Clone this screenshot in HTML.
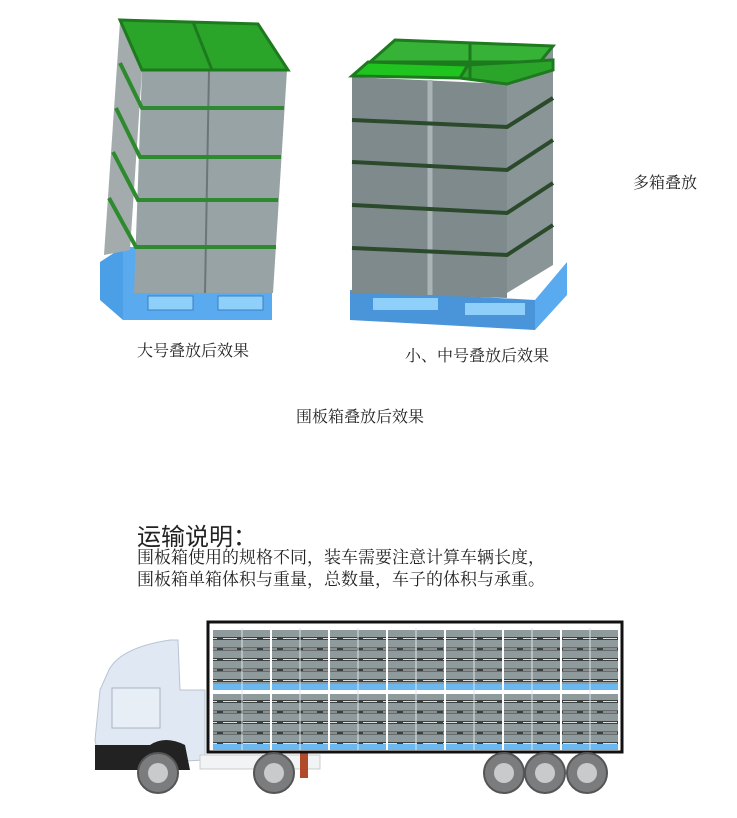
<!DOCTYPE html>
<html><head><meta charset="utf-8"><style>
html,body{margin:0;padding:0;background:#fff;}
body{width:737px;height:818px;position:relative;overflow:hidden;font-family:"Liberation Serif","Noto Serif CJK SC","Noto Sans CJK SC",serif;color:#222;}
.t{position:absolute;white-space:nowrap;}
</style></head><body>
<svg width="737" height="818" style="position:absolute;left:0;top:0">
<defs>
<pattern id="rows" x="0" y="0" width="20" height="10.5" patternUnits="userSpaceOnUse">
<rect width="20" height="10.5" fill="#8e9a9c"/>
<rect y="7" width="20" height="3" fill="#3a3f40"/>
<rect x="3" y="8" width="14" height="1" fill="#ddd"/>
</pattern>
</defs>
<g>
<polygon points="100,262 123,247 123,320 100,300" fill="#4a9fe6"/>
<polygon points="123,247 272,247 272,320 123,320" fill="#5aaaf0"/>
<rect x="148" y="296" width="45" height="14" fill="#8fd0fb" stroke="#3a80c0"/>
<rect x="218" y="296" width="45" height="14" fill="#8fd0fb" stroke="#3a80c0"/>
<polygon points="120,22 142,70 130,250 104,255" fill="#a3abad"/>
<polygon points="142,70 287,70 273,293 134,293" fill="#98a3a6"/>
<line x1="209" y1="70" x2="205" y2="293" stroke="#6c7678" stroke-width="2"/>
<g stroke="#2e8a2e" stroke-width="4" fill="none">
<polyline points="120,63 142,108 284,108"/>
<polyline points="116,108 140,157 281,157"/>
<polyline points="113,152 138,200 278,200"/>
<polyline points="109,198 136,247 276,247"/>
</g>
<polygon points="120,20 258,24 288,70 142,70" fill="#2aa52a" stroke="#1e7a1e" stroke-width="3"/>
<line x1="193" y1="22" x2="212" y2="70" stroke="#1e7a1e" stroke-width="3"/>
</g>
<g>
<polygon points="350,290 535,300 535,330 350,320" fill="#4a94da"/>
<polygon points="535,300 567,262 567,295 535,330" fill="#5aaaf0"/>
<rect x="373" y="298" width="65" height="12" fill="#8fd0fb"/>
<rect x="465" y="303" width="60" height="12" fill="#8fd0fb"/>
<polygon points="507,77 553,48 553,265 507,293" fill="#8a9597"/>
<polygon points="352,77 507,84 507,298 352,293" fill="#7f8a8c"/>
<line x1="430" y1="80" x2="430" y2="295" stroke="#aab4b6" stroke-width="5"/>
<g stroke="#2b4a2b" stroke-width="4" fill="none">
<polyline points="352,120 507,127 553,98"/>
<polyline points="352,162 507,170 553,140"/>
<polyline points="352,205 507,213 553,183"/>
<polyline points="352,248 507,255 553,225"/>
</g>
<polygon points="395,40 553,46 540,62 370,62" fill="#36b236" stroke="#1e7a1e" stroke-width="3"/>
<polygon points="368,62 468,65 460,78 352,76" fill="#1fc41f" stroke="#1e7a1e" stroke-width="3"/>
<polygon points="468,65 553,60 553,70 507,84 460,78" fill="#2aa52a" stroke="#1e7a1e" stroke-width="3"/>
<line x1="470" y1="42" x2="470" y2="78" stroke="#1e7a1e" stroke-width="3"/>
</g>
<g>
<path d="M108,672 Q118,648 170,640 L178,640 L180,690 L205,690 L205,760 L100,765 L95,740 L100,690 Z" fill="#dfe8f3" stroke="#b8c4d2"/>
<rect x="112" y="688" width="48" height="40" fill="#e8eef6" stroke="#a9b5c3"/>
<path d="M95,745 L150,745 Q165,735 185,745 L190,770 L95,770 Z" fill="#222"/>
<rect x="200" y="755" width="120" height="14" fill="#f1f3f5" stroke="#ccc"/>
<rect x="300" y="750" width="8" height="28" fill="#b04a2a"/>
<rect x="208" y="622" width="414" height="130" fill="#fff" stroke="#111" stroke-width="3"/>
<rect x="213" y="630" width="405" height="54" fill="url(#rows)"/>
<rect x="213" y="684" width="405" height="6" fill="#6bb8f0"/>
<rect x="213" y="694" width="405" height="50" fill="url(#rows)"/>
<rect x="213" y="744" width="405" height="6" fill="#6bb8f0"/>
<g stroke="#fff" stroke-width="2">
<line x1="271" y1="628" x2="271" y2="750"/><line x1="329" y1="628" x2="329" y2="750"/>
<line x1="387" y1="628" x2="387" y2="750"/><line x1="445" y1="628" x2="445" y2="750"/>
<line x1="503" y1="628" x2="503" y2="750"/><line x1="561" y1="628" x2="561" y2="750"/>
</g>
<g stroke="#dfe6e8" stroke-width="1">
<line x1="242" y1="628" x2="242" y2="750"/><line x1="300" y1="628" x2="300" y2="750"/>
<line x1="358" y1="628" x2="358" y2="750"/><line x1="416" y1="628" x2="416" y2="750"/>
<line x1="474" y1="628" x2="474" y2="750"/><line x1="532" y1="628" x2="532" y2="750"/>
<line x1="590" y1="628" x2="590" y2="750"/>
</g>
<g fill="#7a7c7e" stroke="#555" stroke-width="2">
<circle cx="158" cy="773" r="20"/><circle cx="274" cy="773" r="20"/>
<circle cx="504" cy="773" r="20"/><circle cx="545" cy="773" r="20"/><circle cx="587" cy="773" r="20"/>
</g>
<g fill="#c8cacc">
<circle cx="158" cy="773" r="10"/><circle cx="274" cy="773" r="10"/>
<circle cx="504" cy="773" r="10"/><circle cx="545" cy="773" r="10"/><circle cx="587" cy="773" r="10"/>
</g>
</g>
</svg>
<div class="t" style="left:137px;top:338px;font-size:16px">大号叠放后效果</div>
<div class="t" style="left:405px;top:343px;font-size:16px">小、中号叠放后效果</div>
<div class="t" style="left:633px;top:170px;font-size:16px">多箱叠放</div>
<div class="t" style="left:296px;top:404px;font-size:16px">围板箱叠放后效果</div>
<div class="t" style="left:137px;top:517px;font-size:24px;font-family:'Liberation Sans','Noto Sans CJK SC',sans-serif">运输说明：</div>
<div class="t" style="left:137px;top:547px;font-size:17px;line-height:22px">围板箱使用的规格不同，装车需要注意计算车辆长度，<br>围板箱单箱体积与重量，总数量，车子的体积与承重。</div>
</body></html>
